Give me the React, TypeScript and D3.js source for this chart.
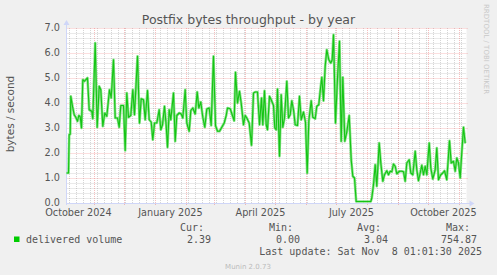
import React from "react";
import * as d3 from "d3";

const W = 497;
const H = 275;

const startDate = new Date(Date.UTC(2024, 9, 4, 1, 0, 0));
const endDate = new Date(Date.UTC(2025, 10, 8, 1, 1, 30));

// days since start date
const dayOffsets = [
  0, 2, 2.7, 3.7, 4.3, 6, 7.7, 9.3, 11, 12.3, 13.7, 15, 16.3, 18, 19.3, 21, 22.7, 25.3, 26.3, 28.7,
  30.7, 32.7, 34.3, 36.3, 38.3, 40.3, 43, 44.7, 47, 48.7, 51, 52.7, 54.3, 57, 58.7, 60.3, 62, 64.3,
  66.3, 68, 71, 73, 74.7, 77, 78.7, 81, 82.7, 84.7, 86.3, 88, 90.3, 92.7, 94.3, 96, 98,
  99.7, 101, 102.7, 104.3, 107, 108.7, 110.3, 112.7, 114.7, 116.3, 118.7, 120.3, 122.7, 124.3, 126.3,
  128.7, 130.7, 132.3, 134.3, 136.3, 138.3, 140.3, 142.7, 144.7, 147, 149, 151, 153, 155.3, 157.7,
  159.7, 161, 163.7, 165.7, 167.7, 169, 171, 173, 174.7, 177, 178.7, 180.3, 182.7, 185, 187, 188.7,
  191, 193, 195, 196.3, 198,
  199.7, 201, 203, 204.7, 207, 208.3, 209.7, 211, 213, 214.7, 216.3, 218, 220.3, 222, 223.7, 225.3,
  227, 228.7, 231, 233, 234.7, 237, 239, 240.7, 242.3, 244.7, 246.3, 248.7, 250.3, 252.3, 253.7,
  255.3, 257, 258.7, 260.3, 262.3, 264.3, 265.7, 267, 269, 271, 273, 274.7, 276.3, 278.3, 280.3,
  282.7, 284.7, 286.3, 288, 289.7, 297,
  304.3, 305.3, 307, 308.7, 310.3, 312.7, 314.3, 316.3, 318, 320.3, 322, 323.7, 325.3, 327, 328.7,
  330.3, 333, 335.3, 337, 338.7, 340.3, 342.7, 344.3, 346.3, 348.7, 350.3, 352, 353.7, 355.3, 357,
  358.7, 360.3, 362.7, 364.3, 366.3, 368.7, 370.3, 372, 374.3, 376.3, 378, 380.3, 383, 384.7, 387,
  388.7, 390.3, 392, 393.7, 395.3, 397, 398.7,
];

// delivered volume (bytes / second)
const deliveredVolume = [
  1.2, 1.2, 2.73, 2.75, 4.27, 3.87, 3.53, 3.43, 3.27, 3.5, 3.45, 3.0, 4.93, 4.87, 4.93, 5.0, 3.73, 3.67, 3.37, 6.4,
  3.03, 4.67, 4.53, 3.07, 3.6, 3.47, 4.53, 4.2, 5.73, 3.4, 3.4, 3.03, 3.9, 3.9, 2.1, 4.4, 3.43, 3.5,
  4.53, 3.53, 5.87, 3.2, 4.17, 4.13, 3.33, 4.5, 3.33, 3.24, 2.53, 3.2, 3.2, 3.73, 2.93, 3.13, 3.87,
  3.1, 2.23, 3.73, 3.33, 4.4, 2.47, 3.5, 3.6, 3.56, 3.4, 4.53, 3.2, 2.87, 3.7, 3.8,
  3.56, 4.44, 3.8, 4.04, 3.43, 3.03, 3.76, 3.8, 3.1, 5.87, 3.1, 2.87, 2.87, 3.03, 3.2,
  3.5, 3.8, 3.77, 3.53, 3.29, 5.23, 4.0, 4.47, 4.0, 3.13, 3.5, 3.4, 3.2, 2.31, 4.4, 4.44,
  4.44, 3.13, 4.2, 3.13, 4.49,
  3.13, 2.93, 4.27, 4.13, 3.9, 3.0, 2.93, 4.56, 1.87, 4.33, 3.03, 3.4, 4.87, 3.4, 3.53, 4.09,
  3.73, 3.13, 3.1, 4.27, 3.33, 3.64, 3.23, 1.2, 3.27, 4.09, 3.43, 3.37, 3.87, 3.93, 4.47,
  5.03, 4.09, 5.47, 6.13, 5.73, 5.6, 5.73, 6.73, 3.2, 5.0, 6.47, 2.47, 5.03, 2.47, 2.84,
  3.5, 1.73, 1.07, 1.0, 0.0, 0.0,
  0.0, 0.2, 0.73, 1.53, 0.67, 2.4, 1.6, 0.87, 1.13, 1.29, 1.13, 1.27, 1.25, 1.56, 1.47,
  1.17, 1.27, 1.27, 1.25, 0.87, 1.6, 1.73, 1.2, 1.13, 2.07, 1.33, 0.89, 1.2, 1.51, 1.13,
  1.47, 1.13, 2.4, 1.4, 0.96, 1.33, 2.2, 0.93, 1.13, 1.2, 1.29, 0.93, 2.49, 1.6, 1.67,
  1.27, 1.8, 1.6, 1.0, 2.04, 3.03, 2.39,
];

const yTickValues = [0, 1, 2, 3, 4, 5, 6, 7];
const xTickLabels = ["October 2024", "January 2025", "April 2025", "July 2025", "October 2025"];
const xTickLabelDates = [
  new Date(Date.UTC(2024, 9, 16)),
  new Date(Date.UTC(2025, 0, 16)),
  new Date(Date.UTC(2025, 3, 16)),
  new Date(Date.UTC(2025, 6, 16)),
  new Date(Date.UTC(2025, 9, 16)),
];

const legendHeaders = ["Cur:", "Min:", "Avg:", "Max:"];
const legendValues = ["2.39", "0.00", "3.04", "754.87"];
const seriesName = "delivered volume";
const title = "Postfix bytes throughput - by year";
const yTitle = "bytes / second";
const lastUpdate = "Last update: Sat Nov  8 01:01:30 2025";

const M = { left: 66.5, right: 466.5, top: 28, bottom: 203 };

export default function App() {
  const x = d3.scaleUtc().domain([startDate, endDate]).range([M.left, M.right]);
  const y = d3.scaleLinear().domain([0, 7]).range([M.bottom, M.top]);

  const points: [Date, number][] = dayOffsets.map((d, i) => [
    new Date(startDate.getTime() + d * 86400000),
    deliveredVolume[i],
  ]);
  const line = d3
    .line<[Date, number]>()
    .x((d) => x(d[0]))
    .y((d) => Math.min(y(d[1]), M.bottom - 1.5))
    .curve(d3.curveLinear);
  const path = line(points) || "";

  const minorY = d3.range(0, 7.0001, 0.2).filter((v) => Math.abs(v - Math.round(v)) > 0.01);
  const months = d3.utcMonth.range(startDate, endDate);
  const weeks = d3.utcMonday.range(startDate, endDate);

  const sans = "'DejaVu Sans', sans-serif";
  const mono = "'DejaVu Sans Mono', monospace";
  const fontColor = "#555555";
  const gridMinor = "rgba(150,150,150,0.4)";
  const gridMajor = "rgba(235,110,110,0.45)";
  const axisColor = "#CFD6F8";

  const legendCols = [204, 293, 381, 470];
  const valueRight = [211, 300, 388, 477];

  return (
    <svg
      width={W}
      height={H}
      style={{ position: "absolute", left: 0, top: 0, display: "block" }}
      xmlns="http://www.w3.org/2000/svg"
    >
      <rect x={0} y={0} width={W} height={H} fill="#f0f0f0" />
      <rect x={M.left} y={M.top} width={M.right - M.left} height={M.bottom - M.top} fill="#ffffff" />

      {/* minor grid */}
      {minorY.map((v, i) => (
        <line key={"my" + i} x1={M.left} x2={M.right} y1={Math.round(y(v)) + 0.5} y2={Math.round(y(v)) + 0.5}
          stroke={gridMinor} strokeDasharray="1,1" />
      ))}
      {weeks.map((d, i) => (
        <line key={"mx" + i} x1={Math.round(x(d)) + 0.5} x2={Math.round(x(d)) + 0.5} y1={M.top} y2={M.bottom}
          stroke={gridMinor} strokeDasharray="1,1" />
      ))}
      {/* major grid */}
      {yTickValues.map((v, i) => (
        <line key={"My" + i} x1={M.left} x2={M.right + 2} y1={Math.round(y(v)) + 0.5} y2={Math.round(y(v)) + 0.5}
          stroke={gridMajor} strokeDasharray="1,1" />
      ))}
      {months.map((d, i) => (
        <line key={"Mx" + i} x1={Math.round(x(d)) + 0.5} x2={Math.round(x(d)) + 0.5} y1={M.top} y2={M.bottom + 2}
          stroke={gridMajor} strokeDasharray="1,1" />
      ))}

      {/* axes */}
      <line x1={M.left} x2={M.right + 4} y1={M.bottom + 0.5} y2={M.bottom + 0.5} stroke={axisColor} />
      <line x1={M.left} x2={M.left} y1={M.bottom + 2} y2={M.top - 4} stroke={axisColor} />
      <path d={`M${M.left - 3},${M.top - 3} L${M.left + 3},${M.top - 3} L${M.left},${M.top - 8} Z`} fill={axisColor} />
      <path d={`M${M.right + 3},${M.bottom - 2.5} L${M.right + 3},${M.bottom + 3.5} L${M.right + 8},${M.bottom + 0.5} Z`} fill={axisColor} />

      {/* data line */}
      <path d={path} fill="none" stroke="#86e286" strokeWidth={2.6} strokeLinejoin="round" />
      <path d={path} fill="none" stroke="#14c414" strokeWidth={1.1} strokeLinejoin="round" />

      {/* y ticks */}
      {yTickValues.map((v, i) => (
        <text key={"yt" + i} x={60} y={y(v)} dy="0.34em" textAnchor="end" fontFamily={sans} fontSize={9.7} fill={fontColor}>
          {d3.format(".1f")(v)}
        </text>
      ))}
      {/* x labels */}
      {xTickLabels.map((t, i) => (
        <text key={"xt" + i} x={x(xTickLabelDates[i])} y={216} textAnchor="middle" fontFamily={sans} fontSize={9.7} fill={fontColor}>
          {t}
        </text>
      ))}

      {/* title */}
      <text x={248.5} y={24} textAnchor="middle" fontFamily={sans} fontSize={12.5} fill={fontColor}>
        {title}
      </text>
      <text transform="translate(13.5,114) rotate(-90)" textAnchor="middle" fontFamily={sans} fontSize={10.5} fill={fontColor}>
        {yTitle}
      </text>
      <text transform="translate(484,4) rotate(90)" textAnchor="start" fontFamily={sans} fontSize={7} fill="#c8c8c8">
        RRDTOOL / TOBI OETIKER
      </text>

      {/* legend */}
      <rect x={14} y={236.5} width={5.5} height={5.5} fill="#00cc00" />
      <text x={26} y={243} fontFamily={mono} fontSize={10} fill={fontColor} style={{ whiteSpace: "pre" }}>
        {seriesName}
      </text>
      {legendHeaders.map((h, i) => (
        <text key={"lh" + i} x={legendCols[i]} y={231} textAnchor="end" fontFamily={mono} fontSize={10} fill={fontColor}>
          {h}
        </text>
      ))}
      {legendValues.map((v, i) => (
        <text key={"lv" + i} x={valueRight[i]} y={243} textAnchor="end" fontFamily={mono} fontSize={10} fill={fontColor}>
          {v}
        </text>
      ))}
      <text x={482} y={255} textAnchor="end" fontFamily={mono} fontSize={10} fill={fontColor} style={{ whiteSpace: "pre" }}>
        {lastUpdate}
      </text>
      <text x={248} y={269} textAnchor="middle" fontFamily={sans} fontSize={7} fill="#bbbbbb">
        Munin 2.0.73
      </text>
    </svg>
  );
}
